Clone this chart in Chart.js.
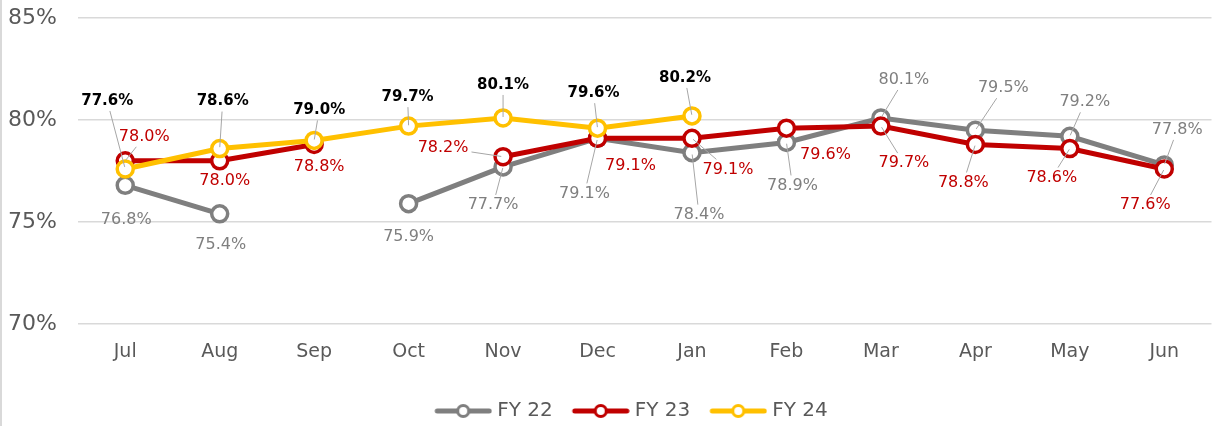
<!DOCTYPE html>
<html>
<head>
<meta charset="utf-8">
<script src="https://cdn.jsdelivr.net/npm/chart.js@4"></script>
<style>
  body { margin: 0; background: #fff; }
  #wrap { position: absolute; left: 0; top: 0; width: 1223px; height: 426px; border-left: 2px solid #d9d9d9; box-sizing: border-box; }
</style>
</head>
<body>
<div id="wrap"><canvas id="myChart" width="1221" height="426"></canvas></div>
<script>
// -----------------------------------------------------------------------------
const months = ["Jul", "Aug", "Sep", "Oct", "Nov", "Dec", "Jan", "Feb", "Mar", "Apr", "May", "Jun"];
const fy22 = [76.8, 75.4, null, 75.9, 77.7, 79.1, 78.4, 78.9, 80.1, 79.5, 79.2, 77.8];
const fy23 = [78.0, 78.0, 78.8, null, 78.2, 79.1, 79.1, 79.6, 79.7, 78.8, 78.6, 77.6];
const fy24 = [77.6, 78.6, 79.0, 79.7, 80.1, 79.6, 80.2, null, null, null, null, null];
const yTicks = [70, 75, 80, 85];

// label offsets from the point: [dx, dy, leader line?]
const labelPos22 = [[1, 35, 0], [1, 31, 0], null, [0, 33, 0], [-10, 38, 1], [-13, 55, 1], [7, 62, 1], [6, 43, 1], [23, -38, 1], [28, -42, 1], [15, -34, 1], [13, -35, 1]];
const labelPos23 = [[19, -24, 1], [5, 20, 0], [5, 22, 0], null, [-60, -9, 1], [33, 27, 0], [36, 31, 1], [39, 27, 0], [23, 37, 1], [-12, 38, 1], [-18, 29, 1], [-19, 36, 1]];
const labelPos24 = [[-18, -68, 1], [3, -47, 1], [5, -30, 1], [-1, -29, 1], [0, -33, 1], [-4, -35, 1], [-7, -38, 1], null, null, null, null, null];
// -----------------------------------------------------------------------------
const FONT = "'DejaVu Sans', sans-serif";
const GRAY = "#7f7f7f";
const RED = "#c00000";
const YELLOW = "#ffc000";

// legend marker: line with an open circle, drawn towards the right of the box
function makeLegendIcon(color) {
  const c = document.createElement("canvas");
  c.width = 76;
  c.height = 18;
  const g = c.getContext("2d");
  g.strokeStyle = color;
  g.lineWidth = 5;
  g.lineCap = "round";
  g.beginPath();
  g.moveTo(21, 9);
  g.lineTo(73, 9);
  g.stroke();
  g.beginPath();
  g.arc(47, 9, 5.5, 0, Math.PI * 2);
  g.fillStyle = "#fff";
  g.fill();
  g.lineWidth = 3;
  g.stroke();
  return c;
}

const valueLabels = {
  id: "valueLabels",
  afterLayout(chart) {
    // legend sits a bit right of the canvas centre and close to the bottom
    chart.legend.left = 24;
    chart.legend.top += 5;
  },
  afterDatasetsDraw(chart) {
    const ctx = chart.ctx;
    chart.data.datasets.forEach((ds, i) => {
      const meta = chart.getDatasetMeta(i);
      ctx.save();
      ctx.font = ds.labelFont;
      ctx.textAlign = "center";
      ctx.textBaseline = "middle";
      meta.data.forEach((pt, j) => {
        const v = ds.data[j];
        const pos = ds.labelPos[j];
        if (v === null || !pos) return;
        const text = v.toFixed(1) + "%";
        const lx = pt.x + pos[0];
        const ly = pt.y + pos[1];
        if (pos[2]) {
          const hw = ctx.measureText(text).width / 2 + 3;
          const hh = 10;
          const dx = lx - pt.x;
          const dy = ly - pt.y;
          const t = Math.min(Math.abs(dx) > 0 ? hw / Math.abs(dx) : 99, Math.abs(dy) > 0 ? hh / Math.abs(dy) : 99);
          ctx.strokeStyle = "#a6a6a6";
          ctx.lineWidth = 1;
          ctx.beginPath();
          ctx.moveTo(pt.x + dx * 0.03, pt.y + dy * 0.03);
          ctx.lineTo(lx - dx * t, ly - dy * t);
          ctx.stroke();
        }
        ctx.fillStyle = ds.labelColor;
        ctx.fillText(text, lx, ly);
      });
      ctx.restore();
    });
  },
};

function seriesOptions(label, data, color, order, labelPos, labelColor, labelFont) {
  return {
    label: label,
    data: data,
    borderColor: color,
    backgroundColor: "#fff",
    borderWidth: 5,
    pointRadius: 8,
    pointBorderWidth: 3.5,
    pointBackgroundColor: "#fff",
    pointBorderColor: color,
    spanGaps: false,
    order: order,
    labelPos: labelPos,
    labelColor: labelColor,
    labelFont: labelFont,
    legendIcon: makeLegendIcon(color),
  };
}

const ctx = document.getElementById("myChart");
const myChart = new Chart(ctx, {
  type: "line",
  data: {
    labels: months,
    datasets: [
      seriesOptions("FY 22", fy22, GRAY, 3, labelPos22, GRAY, "16px " + FONT),
      seriesOptions("FY 23", fy23, RED, 2, labelPos23, RED, "16px " + FONT),
      seriesOptions("FY 24", fy24, YELLOW, 1, labelPos24, "#000", "bold 15px " + FONT),
    ],
  },
  options: {
    responsive: false,
    animation: false,
    events: [],
    layout: { padding: { top: 18, right: 0, bottom: 0, left: 0 } },
    scales: {
      x: {
        offset: true,
        grid: { display: false, drawTicks: false },
        border: { display: false },
        afterFit(scale) {
          scale.height = 66;
        },
        ticks: { color: "#595959", font: { family: FONT, size: 19 }, padding: 17 },
      },
      y: {
        min: 70,
        max: 85,
        afterBuildTicks(scale) {
          scale.ticks = yTicks.map((v) => ({ value: v }));
        },
        afterFit(scale) {
          scale.width = 76;
          scale.paddingTop = 0;
          scale.paddingBottom = 0;
        },
        grid: { color: "#d9d9d9", lineWidth: 1.5, drawTicks: false },
        border: { display: false },
        ticks: {
          color: "#595959",
          font: { family: FONT, size: 22 },
          padding: 21,
          callback: (v) => v + "%",
        },
      },
    },
    plugins: {
      tooltip: { enabled: false },
      legend: {
        position: "bottom",
        labels: {
          color: "#595959",
          font: { family: FONT, size: 20 },
          usePointStyle: true,
          pointStyleWidth: 66,
          padding: 6,
          sort: (a, b) => a.datasetIndex - b.datasetIndex,
          generateLabels(chart) {
            const items = Chart.defaults.plugins.legend.labels.generateLabels(chart);
            items.forEach((it) => {
              it.pointStyle = chart.data.datasets[it.datasetIndex].legendIcon;
            });
            return items;
          },
        },
      },
    },
  },
  plugins: [valueLabels],
});
</script>
</body>
</html>
